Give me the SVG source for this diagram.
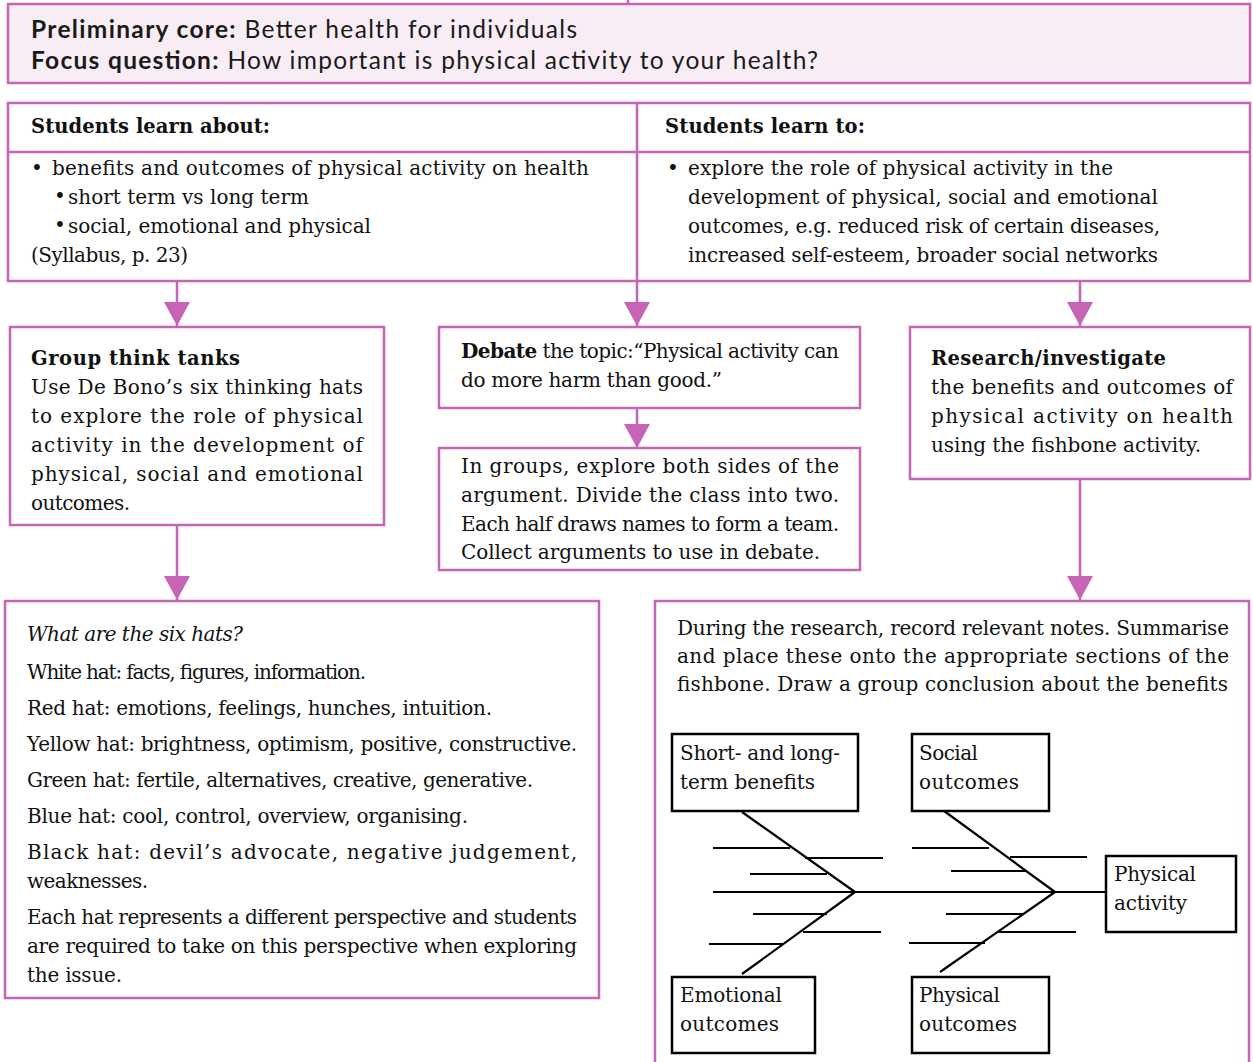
<svg xmlns="http://www.w3.org/2000/svg" width="1253" height="1062" viewBox="0 0 1253 1062">
<defs>
<style>
.box{fill:#fff;stroke:#c764b6;stroke-width:2.5}
.hdr{fill:#f9edf5;stroke:#c764b6;stroke-width:2.5}
.ln{stroke:#c764b6;stroke-width:2.5;fill:none}
.conn{stroke:#c764b6;stroke-width:2.5;fill:none;marker-end:url(#arr)}
.sans{font-family:Lato,"Noto Sans",sans-serif;font-size:24.5px;fill:#1a1a1a}
.t{font-family:"DejaVu Serif","Liberation Serif",serif;font-size:20px;fill:#111}
.b{font-weight:bold;font-size:19.5px}
.i{font-style:italic}
.fb{stroke:#000;stroke-width:2.2;fill:none}
.fbox{fill:#fff;stroke:#000;stroke-width:2.5}
</style>
<marker id="arr" markerUnits="userSpaceOnUse" markerWidth="24" markerHeight="26" refX="24" refY="13" orient="auto" viewBox="0 0 24 26"><path d="M0,0 L24,13 L0,26 z" fill="#c764b6"/></marker>
</defs>
<rect width="1253" height="1062" fill="#fff"/>

<g id="connectors">
<line class="ln" x1="628" y1="0" x2="628" y2="4"/>
<line class="conn" x1="177" y1="281" x2="177" y2="326"/>
<line class="conn" x1="637" y1="281" x2="637" y2="326"/>
<line class="conn" x1="1080" y1="281" x2="1080" y2="326"/>
<line class="conn" x1="177" y1="525" x2="177" y2="600"/>
<line class="conn" x1="637" y1="408" x2="637" y2="448"/>
<line class="conn" x1="1080" y1="479" x2="1080" y2="600"/>
</g>

<g id="header">
<rect class="hdr" x="8" y="4" width="1242" height="79"/>
<text class="sans" x="31" y="38" textLength="546"><tspan font-weight="bold">Preliminary core:</tspan> Better health for individuals</text>
<text class="sans" x="31" y="69" textLength="787"><tspan font-weight="bold">Focus question:</tspan> How important is physical activity to your health?</text>
</g>

<g id="syllabus-table">
<rect class="box" x="8" y="103" width="1242" height="178"/>
<line class="ln" x1="8" y1="152" x2="1250" y2="152"/>
<line class="ln" x1="637" y1="103" x2="637" y2="281"/>
<text class="t b" x="31" y="133" textLength="239">Students learn about:</text>
<text class="t b" x="665" y="133" textLength="200">Students learn to:</text>
<text class="t" x="31" y="175">•</text>
<text class="t" x="52" y="175" textLength="537">benefits and outcomes of physical activity on health</text>
<text class="t" x="54" y="203" font-size="13">•</text>
<text class="t" x="68" y="204" textLength="241">short term vs long term</text>
<text class="t" x="54" y="232" font-size="13">•</text>
<text class="t" x="68" y="233" textLength="303">social, emotional and physical</text>
<text class="t" x="31" y="262" textLength="157">(Syllabus, p. 23)</text>
<text class="t" x="667" y="175">•</text>
<text class="t" x="688" y="175" textLength="425">explore the role of physical activity in the</text>
<text class="t" x="688" y="204" textLength="470">development of physical, social and emotional</text>
<text class="t" x="688" y="233" textLength="472">outcomes, e.g. reduced risk of certain diseases,</text>
<text class="t" x="688" y="262" textLength="470">increased self-esteem, broader social networks</text>
</g>

<g id="group-think-tanks">
<rect class="box" x="10" y="327" width="374" height="198"/>
<text class="t b" x="31" y="365" textLength="209">Group think tanks</text>
<text class="t" x="31" y="394" textLength="332">Use De Bono’s six thinking hats</text>
<text class="t" x="31" y="423" textLength="332">to explore the role of physical</text>
<text class="t" x="31" y="452" textLength="332">activity in the development of</text>
<text class="t" x="31" y="481" textLength="332">physical, social and emotional</text>
<text class="t" x="31" y="510" textLength="99">outcomes.</text>
</g>

<g id="debate">
<rect class="box" x="439" y="327" width="421" height="81"/>
<text class="t" x="461" y="358" textLength="378"><tspan font-weight="bold">Debate</tspan> the topic:“Physical activity can</text>
<text class="t" x="461" y="387" textLength="261">do more harm than good.”</text>
</g>

<g id="debate-groups">
<rect class="box" x="439" y="448" width="421" height="122"/>
<text class="t" x="461" y="473" textLength="378">In groups, explore both sides of the</text>
<text class="t" x="461" y="502" textLength="378">argument. Divide the class into two.</text>
<text class="t" x="461" y="531" textLength="378">Each half draws names to form a team.</text>
<text class="t" x="461" y="559" textLength="359">Collect arguments to use in debate.</text>
</g>

<g id="research">
<rect class="box" x="910" y="327" width="340" height="152"/>
<text class="t b" x="931" y="365" textLength="235">Research/investigate</text>
<text class="t" x="931" y="394" textLength="302">the benefits and outcomes of</text>
<text class="t" x="931" y="423" textLength="302">physical activity on health</text>
<text class="t" x="931" y="452" textLength="270">using the fishbone activity.</text>
</g>

<g id="six-hats">
<rect class="box" x="5" y="601" width="594" height="397"/>
<text class="t i" x="27" y="641" textLength="216">What are the six hats?</text>
<text class="t" x="27" y="679" textLength="339">White hat: facts, figures, information.</text>
<text class="t" x="27" y="715" textLength="465">Red hat: emotions, feelings, hunches, intuition.</text>
<text class="t" x="27" y="751" textLength="550">Yellow hat: brightness, optimism, positive, constructive.</text>
<text class="t" x="27" y="787" textLength="506">Green hat: fertile, alternatives, creative, generative.</text>
<text class="t" x="27" y="823" textLength="441">Blue hat: cool, control, overview, organising.</text>
<text class="t" x="27" y="859" textLength="550">Black hat: devil’s advocate, negative judgement,</text>
<text class="t" x="27" y="888" textLength="121">weaknesses.</text>
<text class="t" x="27" y="924" textLength="550">Each hat represents a different perspective and students</text>
<text class="t" x="27" y="953" textLength="550">are required to take on this perspective when exploring</text>
<text class="t" x="27" y="982" textLength="95">the issue.</text>
</g>

<g id="fishbone-panel">
<path class="ln" d="M655,1062 V601 H1249 V1062" fill="#fff"/>
<text class="t" x="677" y="635" textLength="552">During the research, record relevant notes. Summarise</text>
<text class="t" x="677" y="663" textLength="552">and place these onto the appropriate sections of the</text>
<text class="t" x="677" y="691" textLength="551">fishbone. Draw a group conclusion about the benefits</text>
</g>

<g id="fishbone-lines">
<line class="fb" x1="713" y1="892" x2="1106" y2="892"/>
<line class="fb" x1="742" y1="812" x2="855" y2="892"/>
<line class="fb" x1="855" y1="892" x2="742" y2="974"/>
<line class="fb" x1="940" y1="808" x2="1055" y2="892"/>
<line class="fb" x1="1055" y1="892" x2="940" y2="972"/>
<line class="fb" x1="713" y1="848" x2="790" y2="848"/>
<line class="fb" x1="805" y1="858" x2="883" y2="858"/>
<line class="fb" x1="750" y1="874" x2="827" y2="874"/>
<line class="fb" x1="753" y1="914" x2="827" y2="914"/>
<line class="fb" x1="803" y1="932" x2="881" y2="932"/>
<line class="fb" x1="709" y1="944" x2="784" y2="944"/>
<line class="fb" x1="912" y1="848" x2="989" y2="848"/>
<line class="fb" x1="1010" y1="857" x2="1087" y2="857"/>
<line class="fb" x1="951" y1="871" x2="1027" y2="871"/>
<line class="fb" x1="946" y1="914" x2="1024" y2="914"/>
<line class="fb" x1="999" y1="932" x2="1076" y2="932"/>
<line class="fb" x1="909" y1="943" x2="985" y2="943"/>
</g>

<g id="fb-short-long">
<rect class="fbox" x="672" y="734" width="186" height="77"/>
<text class="t" x="680" y="760" textLength="160">Short- and long-</text>
<text class="t" x="680" y="789" textLength="135">term benefits</text>
</g>
<g id="fb-social">
<rect class="fbox" x="912" y="734" width="137" height="77"/>
<text class="t" x="919" y="760" textLength="59">Social</text>
<text class="t" x="919" y="789" textLength="100">outcomes</text>
</g>
<g id="fb-physical-activity">
<rect class="fbox" x="1106" y="856" width="130" height="76"/>
<text class="t" x="1114" y="881" textLength="82">Physical</text>
<text class="t" x="1114" y="910" textLength="73">activity</text>
</g>
<g id="fb-emotional">
<rect class="fbox" x="672" y="977" width="143" height="76"/>
<text class="t" x="680" y="1002" textLength="102">Emotional</text>
<text class="t" x="680" y="1031" textLength="99">outcomes</text>
</g>
<g id="fb-physical">
<rect class="fbox" x="912" y="977" width="137" height="76"/>
<text class="t" x="919" y="1002" textLength="81">Physical</text>
<text class="t" x="919" y="1031" textLength="98">outcomes</text>
</g>
</svg>
